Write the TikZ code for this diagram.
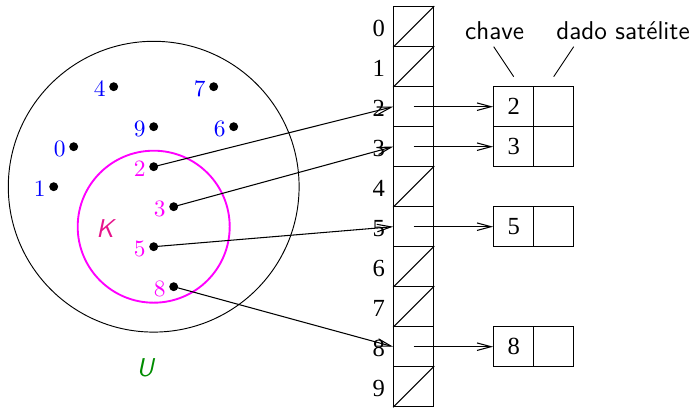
\documentclass[tikz,border=0pt]{standalone}
\usepackage{fontspec}
\newfontfamily\timesf{Liberation Serif}
\usetikzlibrary{arrows.meta,calc}
\definecolor{kcol}{RGB}{230,20,140}
\definecolor{ucol}{RGB}{0,140,0}
\definecolor{mag}{RGB}{255,0,255}
\definecolor{blu}{RGB}{0,0,255}
\begin{document}
\begin{tikzpicture}[x=0.3cm,y=0.3cm,
  dot/.style={circle,fill=black,inner sep=0pt,minimum size=3.8pt},
  ulab/.style={text=blu,inner sep=0pt,font=\fontsize{10}{12}\selectfont},
  klab/.style={text=mag,inner sep=0pt,font=\fontsize{10}{12}\selectfont},
  idx/.style={anchor=east,inner sep=0pt,font=\timesf\fontsize{10.5}{12}\selectfont},
  cell/.style={draw,line width=0.5pt,minimum size=0.6cm,inner sep=0pt,font=\timesf\fontsize{10.5}{12}\selectfont},
  arr/.style={line width=0.45pt,-{Straight Barb[length=6pt,width=3.2pt]}},
  sflab/.style={font=\sffamily\fontsize{11}{13}\selectfont,inner sep=0pt}]
\useasboundingbox (-7.685,-11.065) rectangle (27.215,9.335);
% sets
\draw[line width=0.4pt] (0,0) circle (7.27);
\draw[mag,line width=0.8pt] (0,-2) circle (3.8);
\node[sflab,text=kcol] (klabel) at (-2.43,-2.07) {\itshape K};
\node[sflab,text=ucol] (ulabel) at (-0.43,-9.07) {\itshape U};
% dots
\foreach \n/\px/\py in {4/-2/5,7/3/5,9/0/3,6/4/3,0/-4/2,1/-5/0}{
  \node[dot] (p\n) at (\px,\py) {};
  \node[ulab] (l\n) at (\px-0.7,\py-0.1) {\n};
}
\foreach \n/\px/\py in {2/0/1,3/1/-1,5/0/-3,8/1/-5}{
  \node[dot] (p\n) at (\px,\py) {};
  \node[klab] (l\n) at (\px-0.7,\py-0.1) {\n};
}
% table
\foreach \i in {0,...,9}{
  \node[cell] (t\i) at (13,{8-2*\i}) {};
  \node[idx] (i\i) at ({12-0.42},{8-2*\i-0.1}) {\i};
}
\foreach \i in {0,1,4,6,7,9}{
  \draw[line width=0.5pt] (t\i.south west) -- (t\i.north east);
}
% key boxes
\foreach \k in {2,3,5,8}{
  \node[cell] (ka\k) at (18,{8-2*\k}) {\k};
  \node[cell] (kb\k) at (20,{8-2*\k}) {};
  \draw[arr] (t\k.center) -- (ka\k.west);
  \draw[arr] (p\k.center) -- (t\k.west);
}
% headers
\node[sflab] (chave) at (17.05,7.78) {chave};
\node[sflab] (dado) at (23.47,7.78) {dado satélite};
\coordinate (c1) at (17,7);
\coordinate (c2) at (18,5.5);
\coordinate (d1) at (21,7);
\coordinate (d2) at (20,5.5);
\draw[line width=0.4pt] (c1) -- (c2);
\draw[line width=0.4pt] (d1) -- (d2);
\end{tikzpicture}
\end{document}
